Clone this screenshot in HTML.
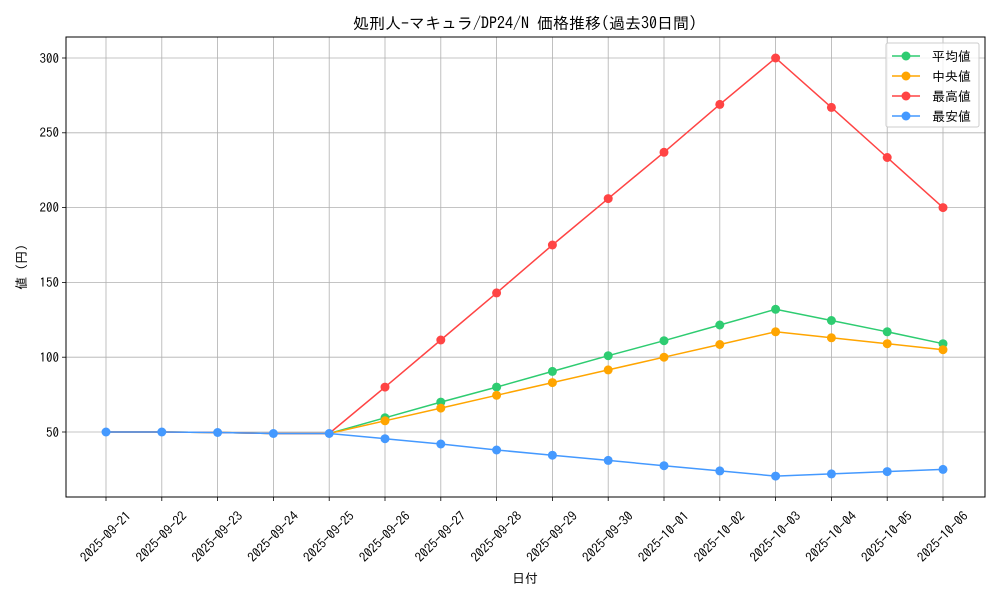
<!DOCTYPE html>
<html><head><meta charset="utf-8"><style>
body{margin:0;background:#fff}
svg{display:block;font-family:"IPAGothic","Noto Sans CJK JP",sans-serif}
</style></head><body>
<svg width="1000" height="600" viewBox="0 0 1000 600" xmlns="http://www.w3.org/2000/svg">
<rect width="1000" height="600" fill="#fff"/>
<g stroke="#b0b0b0" stroke-width="0.8">
<line x1="106" y1="37" x2="106" y2="497"/><line x1="161.8" y1="37" x2="161.8" y2="497"/><line x1="217.6" y1="37" x2="217.6" y2="497"/><line x1="273.4" y1="37" x2="273.4" y2="497"/><line x1="329.2" y1="37" x2="329.2" y2="497"/><line x1="385" y1="37" x2="385" y2="497"/><line x1="440.8" y1="37" x2="440.8" y2="497"/><line x1="496.6" y1="37" x2="496.6" y2="497"/><line x1="552.4" y1="37" x2="552.4" y2="497"/><line x1="608.2" y1="37" x2="608.2" y2="497"/><line x1="664" y1="37" x2="664" y2="497"/><line x1="719.8" y1="37" x2="719.8" y2="497"/><line x1="775.6" y1="37" x2="775.6" y2="497"/><line x1="831.4" y1="37" x2="831.4" y2="497"/><line x1="887.2" y1="37" x2="887.2" y2="497"/><line x1="943" y1="37" x2="943" y2="497"/>
<line x1="66" y1="432" x2="985" y2="432"/><line x1="66" y1="357.2" x2="985" y2="357.2"/><line x1="66" y1="282.4" x2="985" y2="282.4"/><line x1="66" y1="207.6" x2="985" y2="207.6"/><line x1="66" y1="132.8" x2="985" y2="132.8"/><line x1="66" y1="58" x2="985" y2="58"/>
</g>
<g fill="none" stroke-width="1.5">
<polyline stroke="#2ecc71" points="106,432 161.8,432 217.6,432.5 273.4,433.5 329.2,433.5 385,417.8 440.8,402.1 496.6,387.1 552.4,371.4 608.2,355.7 664,340.7 719.8,325 775.6,309.3 831.4,320.5 887.2,331.8 943,343.7"/>
<polyline stroke="#ffa500" points="106,432 161.8,432 217.6,432.5 273.4,433.5 329.2,433.5 385,420.8 440.8,408.1 496.6,395.3 552.4,382.6 608.2,369.9 664,357.2 719.8,344.5 775.6,331.8 831.4,337.8 887.2,343.7 943,349.7"/>
<polyline stroke="#ff4444" points="106,432 161.8,432 217.6,432.5 273.4,433.5 329.2,433.5 385,387.1 440.8,340 496.6,292.9 552.4,245 608.2,198.6 664,152.3 719.8,104.4 775.6,58 831.4,107.4 887.2,157.5 943,207.6"/>
<polyline stroke="#4499ff" points="106,432 161.8,432 217.6,432.5 273.4,433.5 329.2,433.5 385,438.7 440.8,444 496.6,450 552.4,455.2 608.2,460.4 664,465.7 719.8,470.9 775.6,476.1 831.4,473.9 887.2,471.6 943,469.4"/>
</g>
<g fill="#2ecc71"><circle cx="385" cy="417.8" r="4.5"/><circle cx="440.8" cy="402.1" r="4.5"/><circle cx="496.6" cy="387.1" r="4.5"/><circle cx="552.4" cy="371.4" r="4.5"/><circle cx="608.2" cy="355.7" r="4.5"/><circle cx="664" cy="340.7" r="4.5"/><circle cx="719.8" cy="325" r="4.5"/><circle cx="775.6" cy="309.3" r="4.5"/><circle cx="831.4" cy="320.5" r="4.5"/><circle cx="887.2" cy="331.8" r="4.5"/><circle cx="943" cy="343.7" r="4.5"/></g>
<g fill="#ffa500"><circle cx="385" cy="420.8" r="4.5"/><circle cx="440.8" cy="408.1" r="4.5"/><circle cx="496.6" cy="395.3" r="4.5"/><circle cx="552.4" cy="382.6" r="4.5"/><circle cx="608.2" cy="369.9" r="4.5"/><circle cx="664" cy="357.2" r="4.5"/><circle cx="719.8" cy="344.5" r="4.5"/><circle cx="775.6" cy="331.8" r="4.5"/><circle cx="831.4" cy="337.8" r="4.5"/><circle cx="887.2" cy="343.7" r="4.5"/><circle cx="943" cy="349.7" r="4.5"/></g>
<g fill="#ff4444"><circle cx="385" cy="387.1" r="4.5"/><circle cx="440.8" cy="340" r="4.5"/><circle cx="496.6" cy="292.9" r="4.5"/><circle cx="552.4" cy="245" r="4.5"/><circle cx="608.2" cy="198.6" r="4.5"/><circle cx="664" cy="152.3" r="4.5"/><circle cx="719.8" cy="104.4" r="4.5"/><circle cx="775.6" cy="58" r="4.5"/><circle cx="831.4" cy="107.4" r="4.5"/><circle cx="887.2" cy="157.5" r="4.5"/><circle cx="943" cy="207.6" r="4.5"/></g>
<g fill="#4499ff"><circle cx="106" cy="432" r="4.5"/><circle cx="161.8" cy="432" r="4.5"/><circle cx="217.6" cy="432.5" r="4.5"/><circle cx="273.4" cy="433.5" r="4.5"/><circle cx="329.2" cy="433.5" r="4.5"/><circle cx="385" cy="438.7" r="4.5"/><circle cx="440.8" cy="444" r="4.5"/><circle cx="496.6" cy="450" r="4.5"/><circle cx="552.4" cy="455.2" r="4.5"/><circle cx="608.2" cy="460.4" r="4.5"/><circle cx="664" cy="465.7" r="4.5"/><circle cx="719.8" cy="470.9" r="4.5"/><circle cx="775.6" cy="476.1" r="4.5"/><circle cx="831.4" cy="473.9" r="4.5"/><circle cx="887.2" cy="471.6" r="4.5"/><circle cx="943" cy="469.4" r="4.5"/></g>
<rect x="66" y="37" width="919" height="460" fill="none" stroke="#000" stroke-width="1"/>
<g stroke="#000" stroke-width="0.8">
<line x1="106" y1="497" x2="106" y2="501"/><line x1="161.8" y1="497" x2="161.8" y2="501"/><line x1="217.6" y1="497" x2="217.6" y2="501"/><line x1="273.4" y1="497" x2="273.4" y2="501"/><line x1="329.2" y1="497" x2="329.2" y2="501"/><line x1="385" y1="497" x2="385" y2="501"/><line x1="440.8" y1="497" x2="440.8" y2="501"/><line x1="496.6" y1="497" x2="496.6" y2="501"/><line x1="552.4" y1="497" x2="552.4" y2="501"/><line x1="608.2" y1="497" x2="608.2" y2="501"/><line x1="664" y1="497" x2="664" y2="501"/><line x1="719.8" y1="497" x2="719.8" y2="501"/><line x1="775.6" y1="497" x2="775.6" y2="501"/><line x1="831.4" y1="497" x2="831.4" y2="501"/><line x1="887.2" y1="497" x2="887.2" y2="501"/><line x1="943" y1="497" x2="943" y2="501"/>
<line x1="62" y1="432" x2="66" y2="432"/><line x1="62" y1="357.2" x2="66" y2="357.2"/><line x1="62" y1="282.4" x2="66" y2="282.4"/><line x1="62" y1="207.6" x2="66" y2="207.6"/><line x1="62" y1="132.8" x2="66" y2="132.8"/><line x1="62" y1="58" x2="66" y2="58"/>
</g>
<g font-size="13" text-anchor="end" fill="#000">
<text x="59" y="437">50</text><text x="59" y="362">100</text><text x="59" y="287">150</text><text x="59" y="212">200</text><text x="59" y="137">250</text><text x="59" y="63">300</text>
</g>
<g font-size="13" text-anchor="middle" fill="#000">
<text transform="translate(106,537) rotate(-45)" dy="4">2025-09-21</text>
<text transform="translate(161.8,537) rotate(-45)" dy="4">2025-09-22</text>
<text transform="translate(217.6,537) rotate(-45)" dy="4">2025-09-23</text>
<text transform="translate(273.4,537) rotate(-45)" dy="4">2025-09-24</text>
<text transform="translate(329.2,537) rotate(-45)" dy="4">2025-09-25</text>
<text transform="translate(385,537) rotate(-45)" dy="4">2025-09-26</text>
<text transform="translate(440.8,537) rotate(-45)" dy="4">2025-09-27</text>
<text transform="translate(496.6,537) rotate(-45)" dy="4">2025-09-28</text>
<text transform="translate(552.4,537) rotate(-45)" dy="4">2025-09-29</text>
<text transform="translate(608.2,537) rotate(-45)" dy="4">2025-09-30</text>
<text transform="translate(664,537) rotate(-45)" dy="4">2025-10-01</text>
<text transform="translate(719.8,537) rotate(-45)" dy="4">2025-10-02</text>
<text transform="translate(775.6,537) rotate(-45)" dy="4">2025-10-03</text>
<text transform="translate(831.4,537) rotate(-45)" dy="4">2025-10-04</text>
<text transform="translate(887.2,537) rotate(-45)" dy="4">2025-10-05</text>
<text transform="translate(943,537) rotate(-45)" dy="4">2025-10-06</text>
<text x="525" y="583">日付</text>
<text transform="translate(26,267) rotate(-90)">値 (円)</text>
<text x="525" y="29" font-size="16">処刑人-マキュラ/DP24/N 価格推移(過去30日間)</text>
</g>
<rect x="886" y="43" width="93" height="84" rx="2" fill="#fff" fill-opacity="0.8" stroke="#ccc"/>
<g stroke-width="1.5">
<line x1="892" y1="56" x2="920" y2="56" stroke="#2ecc71"/><circle cx="906" cy="56" r="4.5" fill="#2ecc71"/>
<line x1="892" y1="76" x2="920" y2="76" stroke="#ffa500"/><circle cx="906" cy="76" r="4.5" fill="#ffa500"/>
<line x1="892" y1="96" x2="920" y2="96" stroke="#ff4444"/><circle cx="906" cy="96" r="4.5" fill="#ff4444"/>
<line x1="892" y1="116" x2="920" y2="116" stroke="#4499ff"/><circle cx="906" cy="116" r="4.5" fill="#4499ff"/>
</g>
<g font-size="13" fill="#000">
<text x="932" y="61">平均値</text><text x="932" y="81">中央値</text><text x="932" y="101">最高値</text><text x="932" y="121">最安値</text>
</g>
</svg>
</body></html>
